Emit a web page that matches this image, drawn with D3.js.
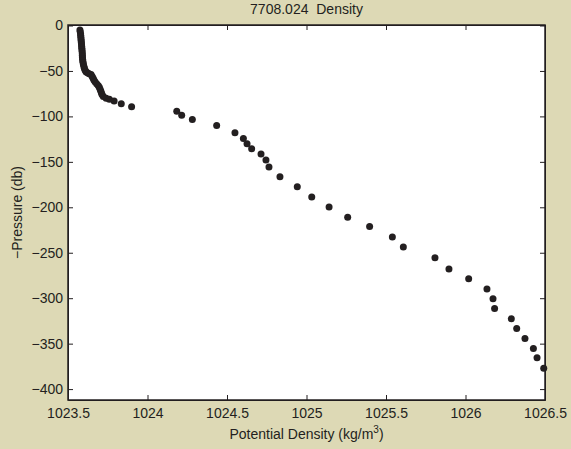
<!DOCTYPE html>
<html>
<head>
<meta charset="utf-8">
<script src="https://cdn.jsdelivr.net/npm/d3@7/dist/d3.min.js"></script>
<style>
  body { margin: 0; background: #ddd9b5; }
  svg { display: block; font-family: "Liberation Sans", Arial, sans-serif; }
  .axis path, .axis line { stroke: #231f20; }
  .axis text { fill: #231f20; font-size: 14px; }
</style>
</head>
<body>
<div id="chart"></div>
<script>
// potential density (kg/m3)
var density = [
	1023.575, 1023.577, 1023.579, 1023.580, 1023.581, 1023.582, 1023.583, 1023.584,
	1023.585, 1023.586, 1023.587, 1023.588, 1023.589, 1023.590, 1023.590, 1023.591,
	1023.592, 1023.593, 1023.595, 1023.597, 1023.600, 1023.603, 1023.607, 1023.613,
	1023.622, 1023.633, 1023.645, 1023.652, 1023.658, 1023.663, 1023.670, 1023.680,
	1023.690, 1023.697, 1023.702, 1023.706, 1023.710, 1023.714, 1023.722, 1023.740,
	1023.760, 1023.790, 1023.835, 1023.900,
	1024.184, 1024.215, 1024.282, 1024.435, 1024.550, 1024.603, 1024.626, 1024.655,
	1024.714, 1024.745, 1024.764, 1024.833, 1024.942, 1025.033, 1025.142, 1025.259,
	1025.397, 1025.540, 1025.609, 1025.808, 1025.896, 1026.020, 1026.135, 1026.173,
	1026.183, 1026.288, 1026.322, 1026.374, 1026.427, 1026.450, 1026.492
];
// matching -pressure (db)
var pressure = [
	-5, -7, -9, -11, -13, -15, -17, -19,
	-21, -23, -25, -27, -29, -31, -33, -35,
	-37, -39, -41, -43, -45, -47, -49, -51,
	-52, -53, -54, -56, -58, -60, -62, -64,
	-66, -68, -70, -72, -74, -76, -78, -80,
	-81, -83, -86, -89.5,
	-94.3, -98.8, -103.5, -110, -118, -124.4, -130, -135.5,
	-141.3, -148, -155.6, -166.3, -177.3, -188.7, -199.7, -211,
	-221, -232.7, -243.7, -255.5, -268, -278.6, -290, -300.7,
	-311.3, -322.7, -333.4, -344.4, -355.4, -365.6, -377
];
var xTicks = [1023.5, 1024, 1024.5, 1025, 1025.5, 1026, 1026.5];
var yTicks = [0, -50, -100, -150, -200, -250, -300, -350, -400];

var width = 571, height = 449;
var margin = {top: 25, right: 26, bottom: 49, left: 68};
var w = width - margin.left - margin.right,
	h = height - margin.top - margin.bottom;

var svg = d3.select("#chart").append("svg")
	.attr("width", width)
	.attr("height", height);

svg.append("rect").attr("width", width).attr("height", height).attr("fill", "#ddd9b5");

var x = d3.scaleLinear().domain([1023.5, 1026.5]).range([0, w]);
var y = d3.scaleLinear().domain([-412, 0]).range([h, 0.5]);

var g = svg.append("g")
	.attr("transform", "translate(" + margin.left + "," + margin.top + ")");

g.append("rect").attr("width", w).attr("height", h).attr("fill", "#fff");

var minus = function(d) { return d3.format("d")(d).replace("-", "\u2212"); };

g.append("g")
	.attr("class", "axis")
	.attr("transform", "translate(0," + h + ")")
	.call(d3.axisBottom(x).tickValues(xTicks).tickSizeInner(-5).tickSizeOuter(0).tickPadding(8).tickFormat(d3.format("")));

g.append("g")
	.attr("class", "axis")
	.call(d3.axisTop(x).tickValues(xTicks).tickSizeInner(-5).tickSizeOuter(0).tickFormat(""));

g.append("g")
	.attr("class", "axis")
	.call(d3.axisLeft(y).tickValues(yTicks).tickSizeInner(-5).tickSizeOuter(0).tickPadding(5).tickFormat(minus));

g.append("g")
	.attr("class", "axis")
	.attr("transform", "translate(" + w + ",0)")
	.call(d3.axisRight(y).tickValues(yTicks).tickSizeInner(-5).tickSizeOuter(0).tickFormat(""));

// box
g.append("rect")
	.attr("width", w).attr("height", h)
	.attr("fill", "none").attr("stroke", "#231f20").attr("stroke-width", 1.5);

g.selectAll(".dot")
	.data(density)
  .enter().append("circle")
	.attr("class", "dot")
	.attr("cx", function(d) { return x(d); })
	.attr("cy", function(d, i) { return y(pressure[i]); })
	.attr("r", 3.5)
	.attr("fill", "#231f20");

svg.append("text")
	.attr("x", margin.left + w / 2).attr("y", 14)
	.attr("text-anchor", "middle")
	.style("font-size", "14px").attr("fill", "#231f20")
	.attr("xml:space", "preserve")
	.text("7708.024  Density");

var xl = svg.append("text")
	.attr("x", margin.left + w / 2).attr("y", 439)
	.attr("text-anchor", "middle")
	.style("font-size", "14px").attr("fill", "#231f20");
xl.append("tspan").text("Potential Density (kg/m");
xl.append("tspan").attr("dy", -6).style("font-size", "10px").text("3");
xl.append("tspan").attr("dy", 6).text(")");

svg.append("text")
	.attr("transform", "translate(22," + (margin.top + h / 2) + ") rotate(-90)")
	.attr("text-anchor", "middle")
	.style("font-size", "14px").attr("fill", "#231f20")
	.text("\u2212Pressure (db)");
</script>
</body>
</html>
